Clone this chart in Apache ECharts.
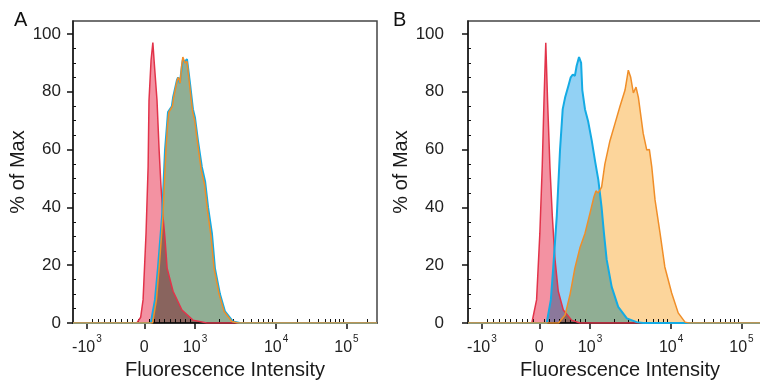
<!DOCTYPE html>
<html><head><meta charset="utf-8">
<script src="https://cdn.jsdelivr.net/npm/echarts@6/dist/echarts.min.js"></script>
<style>html,body{margin:0;padding:0;background:#fff}#c{width:760px;height:389px}</style>
</head><body><div id="c"></div>
<script>
// x axis is in display channels (0-1024) of a biexponential scale
const xTickValues = [47, 240, 411, 684, 921];
const xTickLabels = ['{b|-10}{s|3}', '{b|0}', '{b|10}{s|3}', '{b|10}{s|4}', '{b|10}{s|5}'];
const xMinorTicks = [66,85,105,124,143,163,182,201,221,257,274,291,308,326,343,360,377,394,
  493,541,575,601,623,641,657,671,755,797,826,849,868,884,898,910,992];
const yTickValues = [0, 20, 40, 60, 80, 100];
const yMinorTicks = [5,10,15,25,30,35,45,50,55,65,70,75,85,90,95];

const redA = [[0,0],[215,0],[219,0.5],[228,2],[236,8],[246,31],[253,54],[256,77],[263,91],[269,97],[273,91],[283,77],[290,60],[296,48],[303,37],[310,29],[317,19],[337,11],[367,4.5],[404,1],[451,0],[1024,0]];
const blueA = [[0,0],[262,0],[266,0.5],[276,8],[286,19],[300,37],[310,60],[317,69],[320,73],[333,75],[337,78],[350,84],[354,85],[360,83],[367,89],[370,91],[377,90.5],[384,91.3],[394,83],[404,74],[411,71],[421,63],[434,54],[445,49],[455,40],[468,31],[478,19],[495,10],[512,4],[539,0.5],[562,0],[1024,0]];
const orangeA = [[0,0],[268,0],[272,0.5],[281,8],[290,19],[303,37],[313,60],[319,69],[323,73],[335,75],[339,78],[351,84],[355,85],[361,83],[366,89],[370,92],[377,90],[384,90.5],[393,82],[403,73],[410,70],[420,62],[432,53],[443,48],[453,39],[465,30],[475,19],[492,10],[509,4],[535,0.5],[555,0],[1024,0]];
const redB = [[0,0],[215,0],[220,0.3],[231,8],[242,31],[250,54],[256,77],[262,97],[268,77],[276,54],[284,37],[293,22],[304,11],[321,4.5],[349,1],[377,0],[1024,0]];
const blueB = [[0,0],[265,0],[270,0.3],[279,8],[287,19],[299,37],[310,60],[319,74],[327,78],[338,82],[346,85],[353,86],[360,85.5],[366,89],[374,92],[381,90],[385,80.6],[394,74],[405,69.6],[417,63],[428,56],[439,49.5],[450,40],[458,31],[467,22],[484,12.5],[506,5.6],[535,1.6],[568,0.3],[590,0],[1024,0]];
const orangeB = [[0,0],[305,0],[310,0.3],[327,2.8],[344,10],[360,19],[377,26],[394,31],[411,38],[424,43.6],[431,45.7],[439,45],[450,47],[461,55],[478,63],[495,69],[512,75],[529,80.6],[540,87.5],[548,85],[557,79.6],[566,81.6],[574,78],[590,65.7],[602,59.9],[611,60],[619,54],[630,42.6],[647,31],[663,19.4],[686,10.4],[708,3.5],[731,0.3],[745,0],[1024,0]];

const FONT = '"Liberation Sans", Arial, Helvetica, sans-serif';
const chart = echarts.init(document.getElementById('c'), null, {renderer: 'canvas'});

const grids = [
  {left: 73, top: 21, width: 304, height: 302},
  {left: 468, top: 21, width: 304, height: 302}
];
const yLabelMargin = [12, 24];
const yNameGap = [41, 39];

function xAxes(g) {
  return [
    {gridIndex: g, type: 'value', min: 0, max: 1024,
     axisLine: {show: true, onZero: false, lineStyle: {color: '#1a1a1a', width: 1.5}},
     axisTick: {show: true, customValues: xTickValues, length: 6, lineStyle: {color: '#111', width: 1.5}},
     axisLabel: {show: true, customValues: xTickValues, margin: 11, color: '#222', fontFamily: FONT,
       formatter: v => xTickLabels[xTickValues.indexOf(v)] || '',
       rich: {b: {fontSize: 16, fontFamily: FONT, color: '#222', lineHeight: 22, verticalAlign: 'bottom'},
              s: {fontSize: 10, fontFamily: FONT, color: '#222', lineHeight: 22, verticalAlign: 'top', padding: [0,0,0,1]}}},
     splitLine: {show: false},
     name: 'Fluorescence Intensity', nameLocation: 'middle', nameGap: 35,
     nameTextStyle: {fontSize: 20, fontFamily: FONT, color: '#1a1a1a'}},
    {gridIndex: g, type: 'value', min: 0, max: 1024,
     axisLine: {show: false},
     axisTick: {show: true, customValues: xMinorTicks, length: 4, lineStyle: {color: '#111', width: 1}},
     axisLabel: {show: false}, splitLine: {show: false}}
  ];
}
function yAxes(g) {
  return [
    {gridIndex: g, type: 'value', min: 0, max: 104.5,
     axisLine: {show: true, lineStyle: {color: '#1a1a1a', width: 1.5}},
     axisTick: {show: true, customValues: yTickValues, length: 6, lineStyle: {color: '#111', width: 1.5}},
     axisLabel: {show: true, customValues: yTickValues, margin: yLabelMargin[g], fontSize: 17, fontFamily: FONT, color: '#222'},
     splitLine: {show: false},
     name: '% of Max', nameLocation: 'middle', nameGap: yNameGap[g], nameRotate: 90,
     nameTextStyle: {fontSize: 20, fontFamily: FONT, color: '#1a1a1a'}},
    {gridIndex: g, type: 'value', min: 0, max: 104.5,
     axisLine: {show: false},
     axisTick: {show: true, customValues: yMinorTicks, length: 3, lineStyle: {color: '#111', width: 1}},
     axisLabel: {show: false}, splitLine: {show: false}}
  ];
}

// filled area (multiplied, so overlaps mix like the reference) and its outline
function fillS(data, g, fill, z) {
  return {type: 'line', data: data, xAxisIndex: g * 2, yAxisIndex: g * 2, symbol: 'none',
    blendMode: 'multiply', z: z, silent: true, animation: false,
    lineStyle: {width: 0, opacity: 0}, areaStyle: {color: fill}};
}
function lineS(data, g, color, lw, z) {
  return {type: 'line', data: data, xAxisIndex: g * 2, yAxisIndex: g * 2, symbol: 'none',
    z: z, silent: true, animation: false, lineStyle: {color: color, width: lw}};
}

const RED_L = '#e2334a', RED_F = 'rgba(232,55,85,0.78)';
const BLUE_L = '#14abe4', BLUE_F = 'rgba(55,170,235,0.78)';
const ORA_L = '#f08e28', ORA_F = 'rgba(250,160,25,0.62)';

chart.setOption({
  animation: false,
  backgroundColor: '#fff',
  title: [
    {text: 'A', left: 9, top: 5, textStyle: {fontSize: 20, fontWeight: 'normal', fontFamily: FONT, color: '#111'}},
    {text: 'B', left: 388, top: 5, textStyle: {fontSize: 20, fontWeight: 'normal', fontFamily: FONT, color: '#111'}}
  ],
  grid: grids.map(g => Object.assign({show: true, borderColor: '#444', borderWidth: 1.5,
    backgroundColor: 'transparent', outerBoundsMode: 'none', containLabel: false}, g)),
  xAxis: [...xAxes(0), ...xAxes(1)],
  yAxis: [...yAxes(0), ...yAxes(1)],
  series: [
    fillS(redA, 0, RED_F, 2), fillS(blueA, 0, BLUE_F, 3), fillS(orangeA, 0, ORA_F, 4),
    fillS(redB, 1, RED_F, 2), fillS(blueB, 1, BLUE_F, 3), fillS(orangeB, 1, ORA_F, 4),
    lineS(redA, 0, RED_L, 1.5, 5), lineS(blueA, 0, BLUE_L, 2, 6), lineS(orangeA, 0, ORA_L, 1.5, 7),
    lineS(redB, 1, RED_L, 1.5, 5), lineS(blueB, 1, BLUE_L, 2, 6), lineS(orangeB, 1, ORA_L, 1.5, 7)
  ]
});
</script></body></html>
